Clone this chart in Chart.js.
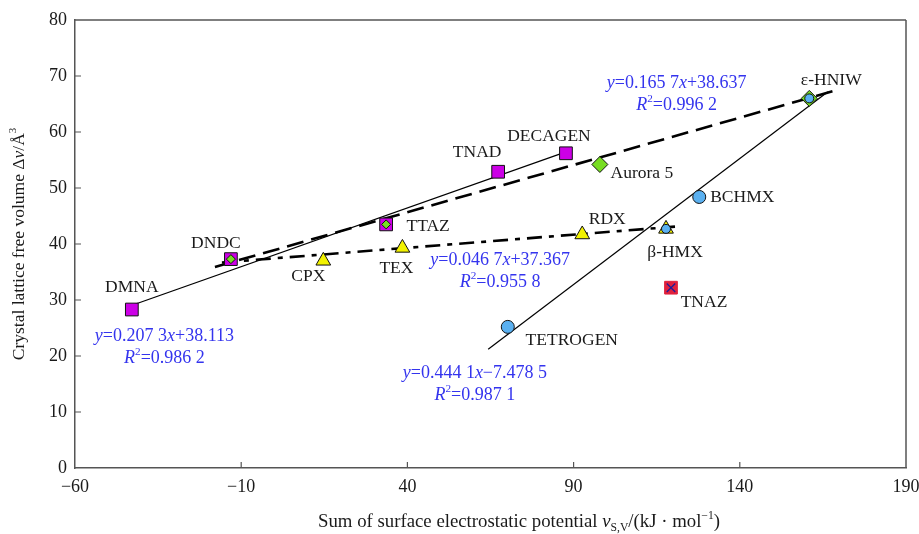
<!DOCTYPE html>
<html>
<head>
<meta charset="utf-8">
<script src="https://cdn.jsdelivr.net/npm/chart.js@4.4.1/dist/chart.umd.min.js"></script>
<style>
  body { margin: 0; background: #fff; }
  canvas { display: block; }
</style>
</head>
<body>
<canvas id="chartRef" width="919" height="534"></canvas>
<script>
// values
const squareNames = ["DMNA", "DNDC", "TTAZ", "TNAD", "DECAGEN"];
const squareX = [-42.9, -13.1, 33.6, 67.3, 87.7];
const squareY = [28.3, 37.3, 43.5, 52.9, 56.2];

const triangleNames = ["CPX", "TEX", "RDX", "β-HMX"];
const triangleX = [14.7, 38.5, 92.6, 117.8];
const triangleY = [37.0, 39.3, 41.7, 42.7];

const diamondNames = ["Aurora 5", "ε-HNIW"];
const diamondX = [97.9, 160.9];
const diamondY = [54.2, 66.0];

const circleNames = ["TETROGEN", "BCHMX"];
const circleX = [70.2, 127.8];
const circleY = [25.2, 48.4];

const outlierNames = ["TNAZ"];
const outlierX = [119.3];
const outlierY = [32.2];

// points that also belong to a second fit (small inner marks)
const greenInnerX = [-13.1, 33.6];
const greenInnerY = [37.3, 43.5];
const blueInnerX = [117.8, 160.9];
const blueInnerY = [42.7, 66.0];

// fit lines, end points
const fitSquareX = [-44.1, 89.4];
const fitSquareY = [28.8, 56.8];
const fitDiamondX = [-17.9, 168.1];
const fitDiamondY = [35.9, 67.3];
const fitTriangleX = [-15.8, 120.5];
const fitTriangleY = [36.7, 43.1];
const fitCircleX = [64.3, 166.5];
const fitCircleY = [21.2, 67.2];

// equations: *italic*  ^sup^
const eqSquare = ["*y*=0.207 3*x*+38.113", "*R*^2^=0.986 2"];
const eqDiamond = ["*y*=0.165 7*x*+38.637", "*R*^2^=0.996 2"];
const eqTriangle = ["*y*=0.046 7*x*+37.367", "*R*^2^=0.955 8"];
const eqCircle = ["*y*=0.444 1*x*−7.478 5", "*R*^2^=0.987 1"];
const eqAnchorX = [-33.1, 121.0, 67.9, 60.3];
const eqAnchorY = [23.6, 68.7, 37.1, 17.0];

const xTicks = [-60, -10, 40, 90, 140, 190];
const yTicks = [0, 10, 20, 30, 40, 50, 60, 70, 80];

// label offsets in pixels from each marker
const labelOffset = {
    "DMNA": [0, -22], "DNDC": [-15, -16], "TTAZ": [42, 2], "TNAD": [-21, -19],
    "DECAGEN": [-17, -17], "CPX": [-15, 16], "TEX": [-6, 20], "RDX": [25, -15],
    "β-HMX": [9, 24], "Aurora 5": [42, 9], "ε-HNIW": [22, -18],
    "TETROGEN": [64, 14], "BCHMX": [43, 0], "TNAZ": [33, 15]
};

const SERIF = '"Liberation Serif", "Times New Roman", serif';
const BLUE_TEXT = "#3434ee";

function pts(xs, ys) {
    return xs.map((x, i) => ({ x: x, y: ys[i] }));
}

function parseRich(str) {
    const segs = [];
    let cur = "", italic = false, sup = false, sub = false;
    const push = () => { if (cur) segs.push({ t: cur, i: italic, sup: sup, sub: sub }); cur = ""; };
    for (const ch of str) {
        if (ch === "*") { push(); italic = !italic; }
        else if (ch === "^") { push(); sup = !sup; }
        else if (ch === "~") { push(); sub = !sub; }
        else cur += ch;
    }
    push();
    return segs;
}

function drawRich(ctx, str, cx, cy, size, color) {
    const segs = parseRich(str);
    const fontOf = s => (s.i ? "italic " : "") + ((s.sup || s.sub) ? size * 0.62 : size) + "px " + SERIF;
    let total = 0;
    segs.forEach(s => { ctx.font = fontOf(s); s.w = ctx.measureText(s.t).width; total += s.w; });
    let x = cx - total / 2;
    ctx.fillStyle = color;
    ctx.textAlign = "left";
    ctx.textBaseline = "middle";
    segs.forEach(s => {
        ctx.font = fontOf(s);
        let dy = 0;
        if (s.sup) dy = -size * 0.32;
        if (s.sub) dy = size * 0.3;
        ctx.fillText(s.t, x, cy + dy);
        x += s.w;
    });
}

const decor = {
    id: "decor",
    afterDraw(chart) {
        const { ctx, chartArea: { left, right, top, bottom }, scales: { x, y } } = chart;
        ctx.save();

        // frame
        ctx.strokeStyle = "#555";
        ctx.lineWidth = 1.5;
        ctx.beginPath();
        ctx.moveTo(left, top);
        ctx.lineTo(right, top);
        ctx.moveTo(right, top);
        ctx.lineTo(right, bottom);
        ctx.stroke();

        // inward ticks
        ctx.lineWidth = 1.2;
        ctx.beginPath();
        xTicks.slice(1, -1).forEach(v => {
            const px = x.getPixelForValue(v);
            ctx.moveTo(px, bottom);
            ctx.lineTo(px, bottom - 6);
        });
        yTicks.slice(1, -1).forEach(v => {
            const py = y.getPixelForValue(v);
            ctx.moveTo(left, py);
            ctx.lineTo(left + 6, py);
        });
        ctx.stroke();

        // point labels
        ctx.font = "17.5px " + SERIF;
        ctx.fillStyle = "#1a1a1a";
        ctx.textAlign = "center";
        ctx.textBaseline = "middle";
        const groups = [
            [squareNames, squareX, squareY], [triangleNames, triangleX, triangleY],
            [diamondNames, diamondX, diamondY], [circleNames, circleX, circleY],
            [outlierNames, outlierX, outlierY]
        ];
        groups.forEach(([names, xs, ys]) => {
            names.forEach((n, i) => {
                const off = labelOffset[n];
                ctx.fillText(n, x.getPixelForValue(xs[i]) + off[0], y.getPixelForValue(ys[i]) + off[1]);
            });
        });

        // fit equations
        [eqSquare, eqDiamond, eqTriangle, eqCircle].forEach((eq, k) => {
            const px = x.getPixelForValue(eqAnchorX[k]);
            const py = y.getPixelForValue(eqAnchorY[k]);
            drawRich(ctx, eq[0], px, py, 18, BLUE_TEXT);
            drawRich(ctx, eq[1], px, py + 22, 18, BLUE_TEXT);
        });

        // axis titles
        drawRich(ctx, "Sum of surface electrostatic potential *v*~S,V~/(kJ · mol^−1^)",
            519, 522, 18.8, "#1a1a1a");
        ctx.translate(19, (top + bottom) / 2);
        ctx.rotate(-Math.PI / 2);
        drawRich(ctx, "Crystal lattice free volume Δ*v*/Å^3^", 0, 0, 17.5, "#1a1a1a");

        ctx.restore();
    }
};

function fitLine(xs, ys, dash, width) {
    return {
        type: "line",
        data: pts(xs, ys),
        borderColor: "#000",
        borderWidth: width,
        borderDash: dash,
        pointRadius: 0,
        fill: false,
        order: 10
    };
}

function markers(xs, ys, style, radius, fill, order) {
    return {
        data: pts(xs, ys),
        pointStyle: style,
        pointRadius: radius,
        pointHoverRadius: radius,
        backgroundColor: fill,
        borderColor: "#111",
        borderWidth: 1,
        order: order
    };
}

const outlierMark = markers(outlierX, outlierY, "rect", 9, "#e0203c", 4);
outlierMark.borderColor = "#e0203c";
const outlierCross = markers(outlierX, outlierY, "crossRot", 6, "#1c1c9a", 3);
outlierCross.borderColor = "#1c1c9a";
outlierCross.borderWidth = 1.3;

const tickFont = { family: SERIF, size: 18 };
const minusSign = v => String(v).replace("-", "−");

new Chart(document.getElementById("chartRef"), {
    type: "scatter",
    data: {
        datasets: [
            fitLine(fitSquareX, fitSquareY, [], 1.2),
            fitLine(fitDiamondX, fitDiamondY, [17, 8], 2.6),
            fitLine(fitTriangleX, fitTriangleY, [15, 7, 5, 7], 2.6),
            fitLine(fitCircleX, fitCircleY, [], 1.2),
            markers(squareX, squareY, "rect", 9, "#cc00e6", 5),
            markers(triangleX, triangleY, "triangle", 8.5, "#f2f200", 5),
            markers(diamondX, diamondY, "rectRot", 8, "#77dd22", 5),
            markers(circleX, circleY, "circle", 6.5, "#5ab0f0", 5),
            outlierMark,
            outlierCross,
            markers(greenInnerX, greenInnerY, "rectRot", 4.5, "#77dd22", 2),
            markers(blueInnerX, blueInnerY, "circle", 4.5, "#5ab0f0", 2)
        ]
    },
    options: {
        responsive: false,
        animation: false,
        layout: { padding: { top: 20, right: 13, left: 0, bottom: 0 } },
        plugins: {
            legend: { display: false },
            tooltip: { enabled: false }
        },
        scales: {
            x: {
                type: "linear",
                min: -60,
                max: 190,
                afterBuildTicks: s => { s.ticks = xTicks.map(v => ({ value: v })); },
                afterFit: s => { s.height = 66; s.paddingLeft = 0; s.paddingRight = 0; },
                grid: { display: false, drawTicks: false },
                border: { display: true, color: "#555", width: 1.5 },
                ticks: { color: "#1a1a1a", padding: 8, font: tickFont, callback: minusSign }
            },
            y: {
                type: "linear",
                min: 0,
                max: 80,
                afterBuildTicks: s => { s.ticks = yTicks.map(v => ({ value: v })); },
                afterFit: s => { s.width = 75; s.paddingTop = 0; s.paddingBottom = 0; },
                grid: { display: false, drawTicks: false },
                border: { display: true, color: "#555", width: 1.5 },
                ticks: { color: "#1a1a1a", padding: 8, font: tickFont }
            }
        }
    },
    plugins: [decor]
});
</script>
</body>
</html>
